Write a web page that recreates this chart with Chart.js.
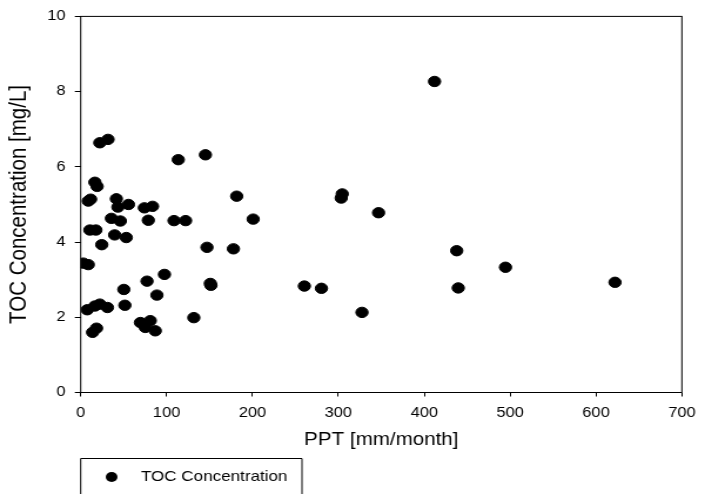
<!DOCTYPE html>
<html>
<head>
<meta charset="utf-8">
<script src="https://cdn.jsdelivr.net/npm/chart.js@4.4.1/dist/chart.umd.min.js"></script>
<style>
    html, body { margin: 0; padding: 0; background: #fff; }
</style>
</head>
<body>
<!-- el lienzo se dibuja a 600 px y se estira a 705 px de ancho -->
<canvas id="grafico" width="600" height="494" style="display:block;width:705px;height:494px;"></canvas>
<script>
// Precipitación mensual (mm/mes)
const pptValues = [
    3.0, 8.8, 24.5, 77.2, 97.5, 50.2, 88.7, 7.6, 16.5, 22.2,
    31.1, 51.4, 131.7, 69.5, 75.2, 81.0, 86.8, 13.8, 18.4, 22.2,
    31.8, 16.5, 19.1, 8.8, 11.5, 41.5, 43.3, 55.6, 74.1, 83.6,
    35.7, 46.1, 78.7, 108.6, 122.1, 10.7, 17.6, 39.5, 53.0, 113.6,
    145.2, 147.0, 181.6, 200.8, 177.8, 150.9, 151.6, 260.4, 280.3, 327.5,
    304.5, 303.3, 346.8, 412.0, 437.8, 494.6, 439.6, 622.1
];
// Concentración de TOC (mg/L)
const tocValues = [
    3.44, 3.40, 3.93, 2.96, 3.14, 2.74, 2.59, 2.20, 2.30, 2.35,
    2.26, 2.32, 1.99, 1.86, 1.73, 1.91, 1.64, 1.60, 1.71, 6.64,
    6.73, 5.59, 5.48, 5.09, 5.14, 5.15, 4.93, 5.00, 4.91, 4.95,
    4.63, 4.56, 4.58, 4.57, 4.57, 4.32, 4.32, 4.19, 4.12, 6.19,
    6.32, 3.86, 5.22, 4.61, 3.82, 2.90, 2.85, 2.83, 2.77, 2.13,
    5.28, 5.17, 4.78, 8.27, 3.77, 3.33, 2.78, 2.93
];
const xTicks = [0, 100, 200, 300, 400, 500, 600, 700];
const yTicks = [0, 2, 4, 6, 8, 10];
const serieLabel = 'TOC Concentration';

const puntos = pptValues.map((x, i) => ({ x: x, y: tocValues[i] }));
const fuente = "'Liberation Sans', Arial, sans-serif";

// Marco completo alrededor del área de trazado
const marcoPlugin = {
    id: 'marco',
    beforeDatasetsDraw(chart) {
        const a = chart.chartArea;
        const ctx = chart.ctx;
        ctx.save();
        ctx.strokeStyle = '#000';
        ctx.lineWidth = 1;
        ctx.strokeRect(a.left, a.top, a.right - a.left, a.bottom - a.top);
        ctx.restore();
    }
};

// Leyenda en caja debajo del eje X
const leyendaPlugin = {
    id: 'leyendaCaja',
    afterDraw(chart) {
        const ctx = chart.ctx;
        const left = chart.chartArea.left;
        ctx.save();
        ctx.strokeStyle = '#000';
        ctx.lineWidth = 1;
        ctx.beginPath();
        ctx.moveTo(left, 500);
        ctx.lineTo(left, 458.5);
        ctx.lineTo(257, 458.5);
        ctx.lineTo(257, 500);
        ctx.stroke();
        ctx.fillStyle = '#000';
        ctx.beginPath();
        ctx.arc(95, 477, 5, 0, Math.PI * 2);
        ctx.fill();
        ctx.font = '14.5px ' + fuente;
        ctx.textBaseline = 'middle';
        ctx.fillText(chart.data.datasets[0].label, 120, 477);
        ctx.restore();
    }
};

new Chart(document.getElementById('grafico'), {
    type: 'scatter',
    data: {
        datasets: [{
            label: serieLabel,
            data: puntos,
            backgroundColor: '#000',
            borderColor: '#000',
            pointRadius: 5.2,
            pointHoverRadius: 5.2
        }]
    },
    options: {
        responsive: false,
        animation: false,
        events: [],
        layout: { padding: { top: 12.3, right: 13.5, left: 0, bottom: 0 } },
        plugins: { legend: { display: false }, tooltip: { enabled: false } },
        scales: {
            x: {
                type: 'linear',
                min: 0,
                max: 700,
                afterBuildTicks: s => { s.ticks = xTicks.map(v => ({ value: v })); },
                afterFit: s => { s.height = 101.5; },
                border: { display: false },
                grid: { drawOnChartArea: false, drawTicks: true, tickLength: 4, color: '#000' },
                ticks: { color: '#000', padding: 8, font: { family: fuente, size: 14 } },
                title: {
                    display: true,
                    text: 'PPT [mm/month]',
                    color: '#000',
                    font: { family: fuente, size: 17.5 },
                    padding: { top: 0, bottom: 43.5 }
                }
            },
            y: {
                type: 'linear',
                min: 0,
                max: 10,
                afterBuildTicks: s => { s.ticks = yTicks.map(v => ({ value: v })); },
                afterFit: s => { s.width = 68.7; },
                border: { display: false },
                grid: { drawOnChartArea: false, drawTicks: true, tickLength: 5, color: '#000' },
                ticks: { color: '#000', padding: 8, font: { family: fuente, size: 14 } },
                title: {
                    display: true,
                    text: 'TOC Concentration [mg/L]',
                    color: '#000',
                    font: { family: fuente, size: 20.5 },
                    padding: { top: 4, bottom: 0 }
                }
            }
        }
    },
    plugins: [marcoPlugin, leyendaPlugin]
});
</script>
</body>
</html>
